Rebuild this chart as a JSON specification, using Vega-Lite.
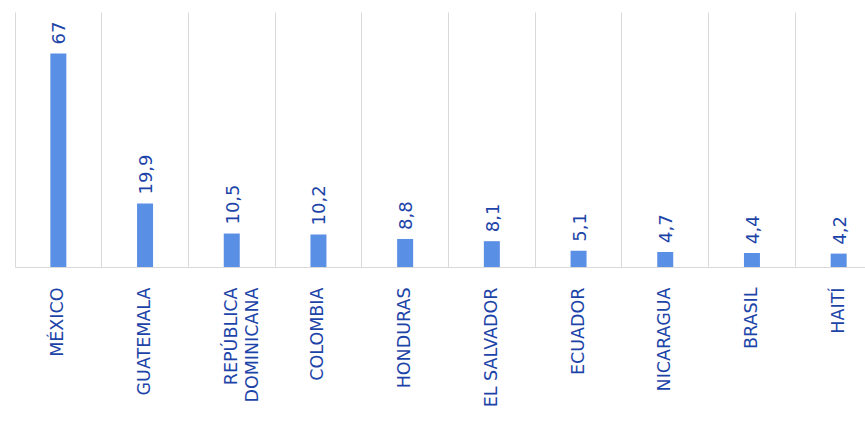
{
  "$schema": "https://vega.github.io/schema/vega-lite/v6.json",
  "width": 867,
  "height": 255,
  "autosize": {"type": "none"},
  "padding": {"left": 15, "top": 12, "right": 0, "bottom": 170},
  "data": {
    "values": [
      {"pais": "MÉXICO", "valor": 67},
      {"pais": "GUATEMALA", "valor": 19.9},
      {"pais": "REPÚBLICA|DOMINICANA", "valor": 10.5},
      {"pais": "COLOMBIA", "valor": 10.2},
      {"pais": "HONDURAS", "valor": 8.8},
      {"pais": "EL SALVADOR", "valor": 8.1},
      {"pais": "ECUADOR", "valor": 5.1},
      {"pais": "NICARAGUA", "valor": 4.7},
      {"pais": "BRASIL", "valor": 4.4},
      {"pais": "HAITÍ", "valor": 4.2}
    ]
  },
  "encoding": {
    "x": {
      "field": "pais",
      "type": "nominal",
      "sort": null,
      "title": null,
      "scale": {"paddingInner": 0, "paddingOuter": 0},
      "axis": {
        "bandPosition": 0,
        "labelAngle": -90,
        "labelAlign": "right",
        "labelBaseline": "middle",
        "labelPadding": 20,
        "labelExpr": "split(datum.label, '|')",
        "labelFont": "DejaVu Sans",
        "labelFontSize": 17.5,
        "labelColor": "#1c44a8",
        "labelLineHeight": 21,
        "labelOverlap": false,
        "labelBound": false,
        "ticks": false,
        "grid": true,
        "gridColor": "#d9d9d9",
        "domainColor": "#d9d9d9"
      }
    },
    "y": {
      "field": "valor",
      "type": "quantitative",
      "scale": {"domain": [0, 80]},
      "axis": null
    }
  },
  "layer": [
    {"mark": {"type": "bar", "size": 16, "color": "#5a8fe6"}},
    {
      "mark": {
        "type": "text",
        "angle": 270,
        "align": "left",
        "baseline": "middle",
        "dx": 9,
        "dy": 2,
        "font": "DejaVu Sans",
        "fontSize": 18,
        "color": "#1c44a8"
      },
      "encoding": {
        "text": {"field": "valor", "type": "quantitative", "format": "~g"}
      }
    }
  ],
  "config": {
    "view": {"stroke": null},
    "locale": {
      "number": {"decimal": ",", "thousands": ".", "grouping": [3], "currency": ["", " €"]}
    }
  }
}
